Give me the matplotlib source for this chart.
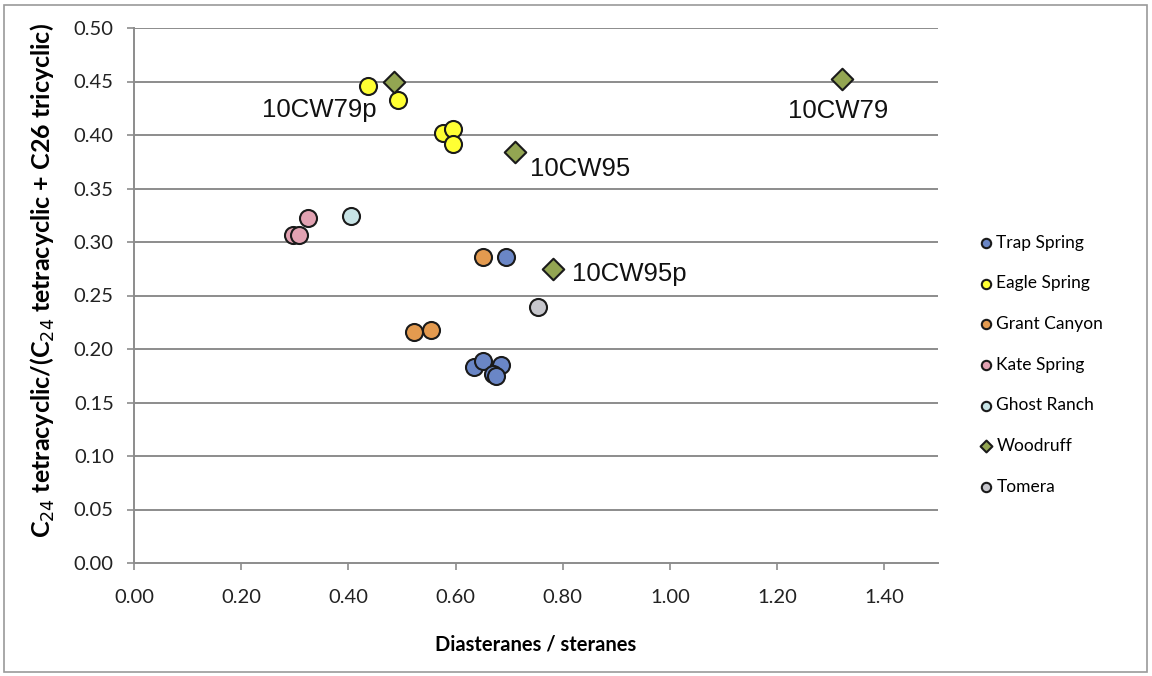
import matplotlib
matplotlib.use("Agg")
import matplotlib.pyplot as plt
from matplotlib.patches import Rectangle

# ---- data ----
trap_x = [0.694, 0.635, 0.652, 0.685, 0.670, 0.675]
trap_y = [0.286, 0.183, 0.189, 0.185, 0.177, 0.175]
eagle_x = [0.437, 0.493, 0.577, 0.595, 0.595]
eagle_y = [0.446, 0.433, 0.402, 0.406, 0.392]
grant_x = [0.651, 0.523, 0.554]
grant_y = [0.286, 0.216, 0.218]
kate_x = [0.325, 0.297, 0.308]
kate_y = [0.322, 0.307, 0.307]
ghost_x = [0.405]
ghost_y = [0.324]
wood_x = [0.485, 0.711, 0.782, 1.320]
wood_y = [0.450, 0.384, 0.275, 0.452]
wood_labels = ["10CW79p", "10CW95", "10CW95p", "10CW79"]
tomera_x = [0.754]
tomera_y = [0.239]

series_names = ["Trap Spring", "Eagle Spring", "Grant Canyon", "Kate Spring",
                "Ghost Ranch", "Woodruff", "Tomera"]
series_x = [trap_x, eagle_x, grant_x, kate_x, ghost_x, wood_x, tomera_x]
series_y = [trap_y, eagle_y, grant_y, kate_y, ghost_y, wood_y, tomera_y]
series_colors = ["#6a86c6", "#ffff33", "#e39a4f", "#e2a2b2", "#c8e4e6", "#93a552", "#c6c6cc"]
series_markers = ["o", "o", "o", "o", "o", "D", "o"]

x_ticks = [0.0, 0.2, 0.4, 0.6, 0.8, 1.0, 1.2, 1.4]
y_ticks = [0.0, 0.05, 0.10, 0.15, 0.20, 0.25, 0.30, 0.35, 0.40, 0.45, 0.50]

# ---- figure ----
W, H = 1152, 676
fig = plt.figure(figsize=(W / 100, H / 100), dpi=100)
L, R, T, B = 134, 938, 28, 563
ax = fig.add_axes([L / W, 1 - B / H, (R - L) / W, (B - T) / H])
ax.set_xlim(0, 1.5)
ax.set_ylim(0, 0.5)

grid_c = "#8c8c8c"
for v in y_ticks[1:]:
    ax.axhline(v, color=grid_c, lw=1.4, zorder=1)
for s in ["top", "right"]:
    ax.spines[s].set_visible(False)
for s in ["left", "bottom"]:
    ax.spines[s].set_color(grid_c)
    ax.spines[s].set_linewidth(1.4)

ax.set_xticks(x_ticks)
ax.set_yticks(y_ticks)
ax.set_xticklabels([f"{v:.2f}" for v in x_ticks])
ax.set_yticklabels([f"{v:.2f}" for v in y_ticks])
ax.tick_params(axis="both", colors=grid_c, length=5, width=1.2, direction="out",
               labelsize=14.5, labelcolor="#222222")
ax.tick_params(axis="y", pad=9.5)
ax.tick_params(axis="x", pad=14)
for lab in ax.get_xticklabels() + ax.get_yticklabels():
    lab.set_family("Lato")

handles = []
for name, xs, ys, c, m in zip(series_names, series_x, series_y, series_colors, series_markers):
    size = 150 if m == "o" else 120
    h = ax.scatter(xs, ys, s=size, c=c, marker=m, edgecolors="#1a1a1a",
                   linewidths=1.5, zorder=3, clip_on=False, label=name)
    handles.append(h)

offsets = {"10CW79p": (-132, -29), "10CW95": (15, -17), "10CW95p": (19, -5), "10CW79": (-54, -32)}
for lbl, x, y in zip(wood_labels, wood_x, wood_y):
    ax.annotate(lbl, (x, y), xytext=offsets[lbl], textcoords="offset pixels",
                ha="left", va="center", fontsize=18.5, family="Liberation Sans",
                color="#111111", zorder=4)

ax.set_xlabel("Diasteranes / steranes", fontsize=14.5, fontweight="bold",
              family="Lato", labelpad=20)
ax.set_ylabel("C$_{24}$ tetracyclic/(C$_{24}$ tetracyclic + C26 tricyclic)",
              fontsize=18, fontweight="bold", family="Lato")
ax.yaxis.set_label_coords((57 - L) / (R - L), (B - 281) / (B - T))

leg = fig.legend(handles=handles, labels=series_names, loc="upper left",
                 bbox_to_anchor=(960 / W, 1 - 219 / H), frameon=False,
                 labelspacing=1.42, handletextpad=0.0,
                 handlelength=1.2, markerscale=0.55, prop={"family": "Lato", "size": 12.5})

fig.patches.append(Rectangle((4 / W, 4 / H), (W - 9) / W, (H - 9) / H,
                             transform=fig.transFigure, fill=False,
                             edgecolor="#9a9a9a", lw=1.2))

fig.savefig("out.png", dpi=100, facecolor="white")
